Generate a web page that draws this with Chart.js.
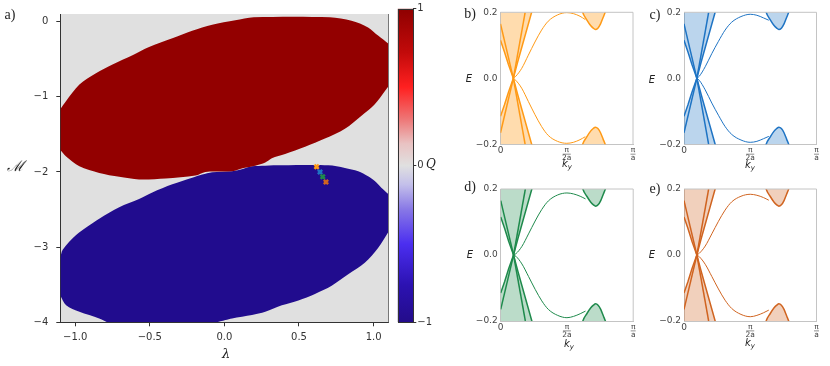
<!DOCTYPE html>
<html>
<head>
<meta charset="utf-8">
<script src="https://cdn.jsdelivr.net/npm/chart.js@4.4.0/dist/chart.umd.min.js"></script>
<style>
    body { margin: 0; width: 830px; height: 366px; position: relative; overflow: hidden; background: #fff; font-family: 'DejaVu Sans', sans-serif; }
    canvas { position: absolute; }
    .lbl { position: absolute; transform: translate(-50%, -50%); white-space: nowrap; color: #222; line-height: 1; }
    .panel { font-family: 'Liberation Serif', 'DejaVu Serif', serif; font-size: 14px; }
    .math { font-family: 'DejaVu Serif', serif; font-style: italic; }
    .sym { font-family: 'DejaVu Sans', sans-serif; font-style: italic; font-size: 10px; }
    .sym sub { font-size: 7px; vertical-align: -2px; }
</style>
</head>
<body>
<canvas id="phaseChart" width="395" height="366" style="left:0;top:0"></canvas>
<canvas id="colorbarChart" width="40" height="366" style="left:395px;top:0"></canvas>
<canvas id="bandB" width="200" height="180" style="left:440px;top:0"></canvas>
<canvas id="bandC" width="195" height="180" style="left:635px;top:0"></canvas>
<canvas id="bandD" width="200" height="190" style="left:440px;top:176px"></canvas>
<canvas id="bandE" width="195" height="190" style="left:635px;top:176px"></canvas>

<div class="lbl panel" style="left:10px;top:15px">a)</div>
<div class="lbl math" style="left:15px;top:166px;font-size:15px">ℳ</div>
<div class="lbl math" style="left:226px;top:353px;font-size:13px">λ</div>
<div class="lbl math" style="left:431px;top:164px;font-size:12px">Q</div>

<div class="lbl panel" style="left:470px;top:14px">b)</div>
<div class="lbl panel" style="left:655px;top:15px">c)</div>
<div class="lbl panel" style="left:470px;top:187px">d)</div>
<div class="lbl panel" style="left:655px;top:189px">e)</div>

<div class="lbl sym" style="left:469px;top:79px">E</div>
<div class="lbl sym" style="left:652px;top:80px">E</div>
<div class="lbl sym" style="left:470px;top:255px">E</div>
<div class="lbl sym" style="left:652px;top:255px">E</div>

<div class="lbl sym" style="left:567px;top:165px">k<sub>y</sub></div>
<div class="lbl sym" style="left:750px;top:166px">k<sub>y</sub></div>
<div class="lbl sym" style="left:569px;top:345px">k<sub>y</sub></div>
<div class="lbl sym" style="left:750px;top:344px">k<sub>y</sub></div>

<script>
// ---- phase diagram (panel a): edges of the Q = +1 and Q = -1 regions, read as (lambda, M) ----
const redTopLambda = [-1.1, -1.061, -0.972, -0.861, -0.75, -0.616, -0.505, -0.349, -0.216, -0.082,
    0.073, 0.196, 0.707, 0.852, 0.963, 1.03, 1.1];
const redTopM = [-1.165, -1.057, -0.839, -0.687, -0.57, -0.448, -0.339, -0.222, -0.122, -0.043,
    0.017, 0.057, 0.057, 0.009, -0.078, -0.187, -0.296];

const redBottomLambda = [-1.1, -1.061, -0.972, -0.839, -0.705, -0.572, -0.394, -0.194, -0.127, 0.051,
    0.129, 0.207, 0.274, 0.318, 0.407, 0.541, 0.674, 0.808, 0.919, 1.008, 1.075, 1.1];
const redBottomM = [-1.709, -1.796, -1.926, -2.013, -2.065, -2.1, -2.087, -2.048, -2.0, -1.991,
    -1.948, -1.917, -1.874, -1.817, -1.761, -1.665, -1.557, -1.426, -1.252, -1.1, -0.926, -0.861];

const blueTopLambda = [-1.1, -1.084, -0.994, -0.905, -0.839, -0.705, -0.572, -0.483, -0.349, -0.216,
    -0.149, -0.082, 0.051, 0.129, 0.185, 0.274, 0.385, 0.696, 0.808, 0.897, 0.963, 1.008, 1.052, 1.1];
const blueTopM = [-3.143, -3.035, -2.839, -2.709, -2.622, -2.47, -2.361, -2.274, -2.165, -2.078,
    -2.035, -2.004, -1.991, -1.957, -1.926, -1.917, -1.913, -1.913, -1.948, -1.991, -2.057, -2.122, -2.209, -2.296];

const blueBottomLambda = [-1.1, -1.061, -0.972, -0.839, -0.772, -0.06, 0.007, 0.051, 0.185, 0.274,
    0.385, 0.496, 0.607, 0.719, 0.83, 0.941, 1.03, 1.1];
const blueBottomM = [-3.643, -3.774, -3.861, -3.948, -4.0, -4.0, -3.97, -3.948, -3.904, -3.861,
    -3.774, -3.709, -3.622, -3.513, -3.361, -3.209, -3.013, -2.796];

// parameter points used for panels b) to e)
const markerLambda = [0.618, 0.641, 0.659, 0.681];
const markerM = [-1.93, -2.0, -2.065, -2.135];

const lambdaTicks = [-1, -0.5, 0, 0.5, 1];
const mTicks = [-4, -3, -2, -1, 0];
const qTicks = [-1, 0, 1];

// ---- band structures (panels b-e), ky in units of pi/a ----
const kyTickValues = [0, 0.5, 1];
const kyTickLabels = [['0'], ['π', '2a'], ['π', 'a']];
const eTicks = [-0.2, 0, 0.2];

const kyLeftBand = [0, 0.03, 0.06, 0.097, 0.13, 0.165, 0.2, 0.235, 0.26];
const eUpperLeft = [0.115, 0.08, 0.042, 0.0, 0.05, 0.1, 0.15, 0.2, 0.235];
const eLowerLeft = [-0.115, -0.08, -0.042, 0.0, -0.05, -0.1, -0.15, -0.2, -0.235];

// denser streaks inside the left bands
const kyStreakInner = [0.097, 0.186];
const eStreakUpInner = [0.0, 0.2];
const eStreakDownInner = [0.0, -0.2];
const kyStreakOuter = [0.0, 0.097];
const eStreakUpOuter = [0.165, 0.0];
const eStreakDownOuter = [-0.165, 0.0];

const kyRightBand = [0.6, 0.62, 0.65, 0.68, 0.7, 0.716, 0.735, 0.755, 0.775, 0.79, 0.8];
const eUpperRight = [0.235, 0.2, 0.178, 0.16, 0.152, 0.148, 0.152, 0.165, 0.185, 0.2, 0.215];
const eLowerRight = [-0.235, -0.2, -0.178, -0.16, -0.152, -0.148, -0.152, -0.165, -0.185, -0.2, -0.215];

const kyEdge = [0.097, 0.115, 0.16, 0.21, 0.26, 0.31, 0.36, 0.43, 0.5, 0.55, 0.6, 0.64];
const edgeUpB = [0, 0.006, 0.03, 0.07, 0.11, 0.146, 0.173, 0.192, 0.199, 0.196, 0.188, 0.178];
const edgeDownB = [0, -0.006, -0.03, -0.07, -0.11, -0.146, -0.173, -0.191, -0.197, -0.194, -0.186, -0.177];
const edgeUpC = [0, 0.006, 0.035, 0.075, 0.112, 0.146, 0.17, 0.187, 0.194, 0.191, 0.183, 0.176];
const edgeDownC = [0, -0.006, -0.035, -0.075, -0.112, -0.146, -0.17, -0.187, -0.194, -0.191, -0.183, -0.176];
const edgeUpD = [0, 0.004, 0.026, 0.064, 0.103, 0.138, 0.164, 0.182, 0.188, 0.185, 0.178, 0.17];
const edgeDownD = [0, -0.004, -0.027, -0.065, -0.104, -0.139, -0.165, -0.183, -0.19, -0.186, -0.178, -0.17];
const edgeUpE = [0, 0.005, 0.027, 0.064, 0.102, 0.136, 0.161, 0.178, 0.184, 0.181, 0.174, 0.166];
const edgeDownE = [0, -0.005, -0.028, -0.065, -0.103, -0.137, -0.162, -0.18, -0.187, -0.183, -0.175, -0.167];

const panelColors = ['#ff9a16', '#1f74c4', '#1f8a4c', '#d06420'];

Chart.defaults.font.family = "'DejaVu Sans', sans-serif";
Chart.defaults.color = '#333';
Chart.defaults.animation = false;

function fixWidth(w) {
    return function (scale) { scale.width = w; };
}
function fixHeight(h) {
    return function (scale) { scale.height = h; };
}
function minusSign(text) {
    return String(text).replace('-', '\u2212');
}
function toPoints(xs, ys) {
    return xs.map((x, i) => ({x: x, y: ys[i]}));
}

// gray background + right border for the phase diagram
const phaseFrame = {
    id: 'phaseFrame',
    beforeDraw(chart) {
        const {ctx, chartArea: a} = chart;
        ctx.save();
        ctx.fillStyle = '#e0e0e0';
        ctx.fillRect(a.left, a.top, a.right - a.left, a.bottom - a.top);
        ctx.restore();
    },
    afterDraw(chart) {
        const {ctx, chartArea: a} = chart;
        ctx.save();
        ctx.strokeStyle = '#777';
        ctx.lineWidth = 1;
        ctx.beginPath();
        ctx.moveTo(Math.round(a.right) - 0.5, a.top);
        ctx.lineTo(Math.round(a.right) - 0.5, a.bottom);
        ctx.stroke();
        ctx.restore();
    }
};

const regionEdge = { showLine: true, pointRadius: 0, borderWidth: 0, tension: 0.3, order: 1 };

const phaseCtx = document.getElementById('phaseChart').getContext('2d');
new Chart(phaseCtx, {
    type: 'scatter',
    data: {
        datasets: [
            Object.assign({ label: 'Q = 1 top', data: toPoints(redTopLambda, redTopM), fill: '+1', backgroundColor: '#930000' }, regionEdge),
            Object.assign({ label: 'Q = 1 bottom', data: toPoints(redBottomLambda, redBottomM), fill: false }, regionEdge),
            Object.assign({ label: 'Q = -1 top', data: toPoints(blueTopLambda, blueTopM), fill: '+1', backgroundColor: '#210c8e' }, regionEdge),
            Object.assign({ label: 'Q = -1 bottom', data: toPoints(blueBottomLambda, blueBottomM), fill: false }, regionEdge),
            {
                label: 'points',
                data: toPoints(markerLambda, markerM),
                pointStyle: 'crossRot',
                pointRadius: 3,
                pointBorderWidth: 2.5,
                pointBorderColor: panelColors,
                pointBackgroundColor: panelColors,
                order: 0
            }
        ]
    },
    options: {
        responsive: false,
        layout: { padding: { top: 8.7, right: 4.7, left: 0, bottom: 0 } },
        plugins: { legend: { display: false }, tooltip: { enabled: false } },
        scales: {
            x: {
                type: 'linear',
                min: -1.1,
                max: 1.1,
                z: 1,
                afterBuildTicks: s => { s.ticks = lambdaTicks.map(v => ({value: v})); },
                ticks: {
                    callback: v => minusSign(v.toFixed(1)),
                    font: { size: 10 },
                    padding: 5,
                    maxRotation: 0,
                    autoSkip: false
                },
                grid: { drawOnChartArea: false, tickLength: 4, color: '#333' },
                border: { color: '#333' },
                afterFit: fixHeight(43.7)
            },
            y: {
                min: -4,
                max: 0.1,
                z: 1,
                afterBuildTicks: s => { s.ticks = mTicks.map(v => ({value: v})); },
                ticks: {
                    callback: v => minusSign(v),
                    font: { size: 10 },
                    padding: 8
                },
                grid: { drawOnChartArea: false, tickLength: 4, color: '#333' },
                border: { color: '#333' },
                afterFit: fixWidth(60.3)
            }
        }
    },
    plugins: [phaseFrame]
});

// ---- colorbar ----
const colorbarStops = [
    [0, '#230c8a'], [0.12, '#2c12b2'], [0.25, '#4b2ef0'], [0.36, '#8878e6'],
    [0.44, '#c4c0ea'], [0.5, '#e0e0e0'], [0.57, '#e9c2c2'], [0.65, '#ee7474'],
    [0.75, '#ff2020'], [0.86, '#c20a0a'], [1, '#8e0000']
];

function colorbarGradient(context) {
    const {ctx, chartArea} = context.chart;
    if (!chartArea) return '#e0e0e0';
    const g = ctx.createLinearGradient(0, chartArea.bottom, 0, chartArea.top);
    colorbarStops.forEach(s => g.addColorStop(s[0], s[1]));
    return g;
}

const boxFrame = {
    id: 'boxFrame',
    afterDraw(chart, args, opts) {
        const {ctx, chartArea: a} = chart;
        ctx.save();
        ctx.strokeStyle = opts.color || '#333';
        ctx.lineWidth = 1;
        ctx.strokeRect(Math.round(a.left) + 0.5, Math.round(a.top) + 0.5,
            Math.round(a.right - a.left) - 1, Math.round(a.bottom - a.top) - 1);
        ctx.restore();
    }
};

const cbCtx = document.getElementById('colorbarChart').getContext('2d');
new Chart(cbCtx, {
    type: 'bar',
    data: {
        labels: ['Q'],
        datasets: [{
            data: [[-1, 1]],
            backgroundColor: colorbarGradient,
            barPercentage: 1,
            categoryPercentage: 1,
            borderWidth: 0
        }]
    },
    options: {
        responsive: false,
        layout: { padding: { left: 2.7, top: 8.7, bottom: 43.7, right: 0 } },
        plugins: { legend: { display: false }, tooltip: { enabled: false }, boxFrame: { color: '#333' } },
        scales: {
            x: { display: false },
            y: {
                position: 'right',
                min: -1,
                max: 1,
                afterBuildTicks: s => { s.ticks = qTicks.map(v => ({value: v})); },
                ticks: { callback: v => minusSign(v), font: { size: 10 }, padding: 1 },
                grid: { drawOnChartArea: false, tickLength: 3, color: '#333' },
                border: { color: '#333' },
                afterFit: fixWidth(21.7)
            }
        }
    },
    plugins: [boxFrame]
});

// ---- band structure panels ----
const bandFrame = {
    id: 'bandFrame',
    afterDraw(chart) {
        const {ctx, chartArea: a} = chart;
        const x = chart.scales.x;
        ctx.save();
        ctx.strokeStyle = '#c4c4c4';
        ctx.lineWidth = 1;
        ctx.beginPath();
        ctx.moveTo(a.left, a.top);
        ctx.lineTo(a.right, a.top);
        ctx.lineTo(a.right, a.bottom);
        ctx.stroke();
        // fraction bars of the pi/2a and pi/a tick labels
        const yBar = x.top + x.options.ticks.padding + 7.5 * 1.05;
        ctx.strokeStyle = '#444';
        ctx.lineWidth = 0.6;
        x.ticks.forEach((t, i) => {
            if (kyTickLabels[i].length < 2) return;
            const px = x.getPixelForValue(t.value);
            const half = kyTickLabels[i][1].length > 1 ? 4 : 2.5;
            ctx.beginPath();
            ctx.moveTo(px - half, yBar);
            ctx.lineTo(px + half, yBar);
            ctx.stroke();
        });
        ctx.restore();
    }
};

function drawBandPanel(canvasId, color, fillColor, edgeUp, edgeDown, box) {
    const ctx = document.getElementById(canvasId).getContext('2d');
    const band = { showLine: true, pointRadius: 0, borderColor: color, borderWidth: 1.5, backgroundColor: fillColor };
    const streak = { showLine: true, pointRadius: 0, borderColor: color, borderWidth: 1.5, fill: false };
    const edge = { showLine: true, pointRadius: 0, borderColor: color, borderWidth: 1, fill: false, cubicInterpolationMode: 'monotone' };
    return new Chart(ctx, {
        type: 'scatter',
        data: {
            datasets: [
                Object.assign({ data: toPoints(kyLeftBand, eUpperLeft), fill: 'end' }, band),
                Object.assign({ data: toPoints(kyLeftBand, eLowerLeft), fill: 'start' }, band),
                Object.assign({ data: toPoints(kyRightBand, eUpperRight), fill: 'end', cubicInterpolationMode: 'monotone' }, band),
                Object.assign({ data: toPoints(kyRightBand, eLowerRight), fill: 'start', cubicInterpolationMode: 'monotone' }, band),
                Object.assign({ data: toPoints(kyStreakInner, eStreakUpInner) }, streak),
                Object.assign({ data: toPoints(kyStreakInner, eStreakDownInner) }, streak),
                Object.assign({ data: toPoints(kyStreakOuter, eStreakUpOuter) }, streak),
                Object.assign({ data: toPoints(kyStreakOuter, eStreakDownOuter) }, streak),
                Object.assign({ data: toPoints(kyEdge, edgeUp) }, edge),
                Object.assign({ data: toPoints(kyEdge, edgeDown) }, edge)
            ]
        },
        options: {
            responsive: false,
            layout: { padding: { top: box.padTop, right: box.padRight, left: 0, bottom: 0 } },
            plugins: { legend: { display: false }, tooltip: { enabled: false } },
            scales: {
                x: {
                    type: 'linear',
                    min: 0,
                    max: 1,
                    afterBuildTicks: s => { s.ticks = kyTickValues.map(v => ({value: v})); },
                    ticks: {
                        callback: (v, i) => kyTickLabels[i],
                        font: c => ({ size: c.index === 0 ? 9 : 7.5, lineHeight: 1.05 }),
                        color: '#444',
                        padding: 2,
                        maxRotation: 0,
                        autoSkip: false
                    },
                    grid: { drawOnChartArea: false, drawTicks: false },
                    border: { color: '#c4c4c4' },
                    afterFit: fixHeight(box.axisHeight)
                },
                y: {
                    min: -0.2,
                    max: 0.2,
                    afterBuildTicks: s => { s.ticks = eTicks.map(v => ({value: v})); },
                    ticks: {
                        callback: v => minusSign(v.toFixed(1)),
                        font: { size: 9 },
                        color: '#444',
                        padding: 3
                    },
                    grid: { drawOnChartArea: false, drawTicks: false },
                    border: { color: '#c4c4c4' },
                    afterFit: fixWidth(box.axisWidth)
                }
            }
        },
        plugins: [bandFrame]
    });
}

drawBandPanel('bandB', panelColors[0], 'rgba(255,154,22,0.35)', edgeUpB, edgeDownB,
    { axisWidth: 60.5, axisHeight: 35.7, padTop: 12.3, padRight: 7 });
drawBandPanel('bandC', panelColors[1], 'rgba(31,116,196,0.3)', edgeUpC, edgeDownC,
    { axisWidth: 49, axisHeight: 35.7, padTop: 12.3, padRight: 13.5 });
drawBandPanel('bandD', panelColors[2], 'rgba(31,138,76,0.3)', edgeUpD, edgeDownD,
    { axisWidth: 60.7, axisHeight: 45, padTop: 13, padRight: 6.8 });
drawBandPanel('bandE', panelColors[3], 'rgba(208,100,32,0.3)', edgeUpE, edgeDownE,
    { axisWidth: 49, axisHeight: 45, padTop: 13, padRight: 13.5 });
</script>
</body>
</html>
